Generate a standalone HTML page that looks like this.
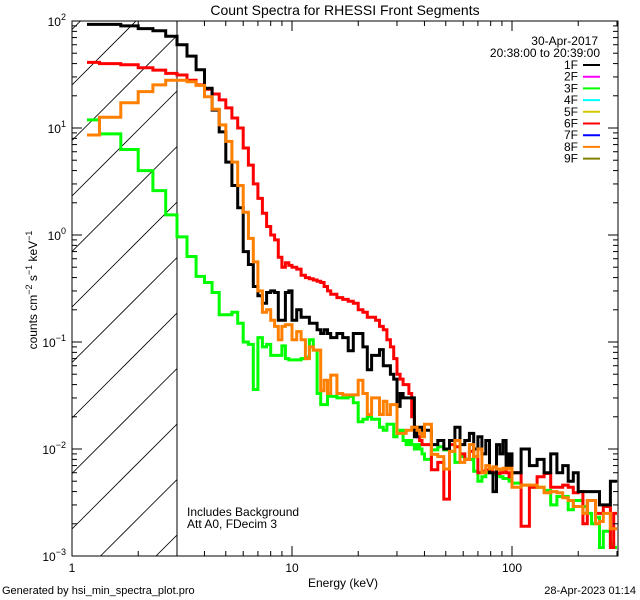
<!DOCTYPE html>
<html><head><meta charset="utf-8">
<style>
html,body{margin:0;padding:0;background:#fff;width:640px;height:600px;overflow:hidden;}
svg{display:block;font-family:"Liberation Sans",sans-serif;}
</style></head>
<body>
<svg id="chart" width="640" height="600" viewBox="0 0 640 600" xmlns="http://www.w3.org/2000/svg">
<rect width="640" height="600" fill="#fff"/>
<text x="345" y="15" font-size="14" text-anchor="middle">Count Spectra for RHESSI Front Segments</text>
<defs><clipPath id="hclip"><rect x="72" y="21" width="105" height="535"/></clipPath>
<clipPath id="pclip"><rect x="72" y="21" width="546" height="535"/></clipPath></defs>
<g id="hatch" clip-path="url(#hclip)"></g>
<line x1="177" y1="21" x2="177" y2="556" stroke="#000" stroke-width="1"/>
<g id="series" clip-path="url(#pclip)"></g>
<rect x="72" y="21" width="546" height="535" fill="none" stroke="#000" stroke-width="1"/>
<g id="axes"></g>
<text x="343" y="587" font-size="12" text-anchor="middle">Energy (keV)</text>
<text transform="translate(37,290) rotate(-90)" font-size="12" text-anchor="middle">counts cm<tspan dy="-5" font-size="9">−2</tspan><tspan dy="5"> s</tspan><tspan dy="-5" font-size="9">−1</tspan><tspan dy="5"> keV</tspan><tspan dy="-5" font-size="9">−1</tspan></text>
<text x="187" y="516" font-size="12">Includes Background</text>
<text x="187" y="528" font-size="12">Att A0, FDecim 3</text>
<text x="598" y="45" font-size="12" text-anchor="end">30-Apr-2017</text>
<text x="600" y="57" font-size="12" text-anchor="end">20:38:00 to 20:39:00</text>
<g id="legend"></g>
<text x="2" y="594" font-size="11">Generated by hsi_min_spectra_plot.pro</text>
<text x="636" y="594" font-size="11" text-anchor="end">28-Apr-2023 01:14</text>
</svg>
<script>
const binLo=[1.17,1.333,1.667,2,2.333,2.667,3,3.333,3.667,4,4.333,4.667,5,5.333,5.667,6,6.333,6.667,7,7.333,7.667,8,8.333,8.667,9,9.333,9.667,
10,10.5,11,11.5,12,12.5,13,13.5,14,14.5,
15,16,17,18,19,20,21,22,23,24,25,26,27,28,29,30,31,32,33,34,35,36,37,38,39,
40,43,46,49,52,55,58,61,64,67,70,73,76,79,82,85,88,91,94,97,
100,110,120,130,140,150,160,170,180,190,200,210,220,230,240,250,260,270,280,290];
const binTop=300;
const seg1F=[93,93,90,85,81,72,60,47,35,23.5,14.7,9.2,4.8,2.9,1.8,0.7,0.53,0.33,0.27,0.23,0.29,0.3,0.29,0.16,0.16,0.29,0.3,
0.16,0.2,0.17,0.17,0.15,0.15,0.13,0.12,0.13,0.12,
0.11,0.12,0.11,0.083,0.12,0.12,0.09,0.055,0.075,0.075,0.085,0.06,0.06,0.05,0.045,0.025,0.033,0.03,0.03,0.03,0.03,0.013,0.016,0.016,0.015,
0.015,0.011,0.012,0.010,0.012,0.016,0.011,0.012,0.014,0.010,0.013,0.009,0.012,0.006,0.004,0.011,0.009,0.012,0.007,0.009,
0.006,0.010,0.007,0.008,0.006,0.009,0.006,0.007,0.005,0.006,0.004,0.004,0.004,0.004,0.004,0.003,0.003,0.003,0.005,0.005];
const seg3F=[11.9,8.8,6.3,4.0,2.6,1.54,0.96,0.63,0.41,0.36,0.29,0.18,0.18,0.19,0.15,0.1,0.095,0.036,0.11,0.09,0.095,0.075,0.075,0.075,0.092,0.07,0.068,
0.068,0.068,0.07,0.072,0.105,0.084,0.033,0.026,0.026,0.031,
0.031,0.03,0.03,0.031,0.027,0.018,0.019,0.02,0.019,0.019,0.016,0.015,0.017,0.017,0.013,0.014,0.015,0.012,0.011,0.012,0.011,0.01,0.011,0.01,0.009,
0.008,0.0098,0.0105,0.0098,0.0095,0.0075,0.0085,0.008,0.008,0.0062,0.005,0.0055,0.006,0.006,0.0058,0.0058,0.0055,0.0053,0.0053,0.005,
0.0048,0.0046,0.0044,0.0044,0.0041,0.003,0.0036,0.0036,0.0027,0.0033,0.0033,0.0029,0.0025,0.002,0.0023,0.0012,0.0017,0.0017,0.0013,0.0012];
const seg6F=[41,40,39,36.6,34.8,32.4,31.3,28,25.3,23,20.8,18.3,15.4,12.4,10,6.5,4.5,3.0,2.2,1.6,1.2,1.0,0.9,0.62,0.5,0.55,0.52,
0.5,0.48,0.42,0.4,0.39,0.38,0.37,0.36,0.33,0.3,
0.28,0.26,0.25,0.24,0.23,0.2,0.19,0.17,0.17,0.16,0.14,0.13,0.105,0.09,0.07,0.05,0.045,0.04,0.04,0.033,0.02,0.015,0.013,0.012,0.011,
0.011,0.0064,0.0075,0.0034,0.011,0.0105,0.009,0.008,0.0095,0.0085,0.006,0.0062,0.0064,0.0064,0.006,0.0059,0.006,0.0064,0.006,0.0055,
0.006,0.0019,0.0044,0.0055,0.0059,0.0044,0.0044,0.0046,0.0044,0.0039,0.004,0.002,0.0033,0.0033,0.0025,0.0025,0.0029,0.0029,0.0012,0.0025];
const seg8F=[8.6,12.6,17.2,21.9,25.3,28,28,27,25,19.6,15,10.7,7.5,4.8,2.9,1.63,0.93,0.56,0.3,0.19,0.2,0.16,0.14,0.105,0.14,0.145,0.145,
0.105,0.125,0.105,0.07,0.09,0.084,0.084,0.035,0.044,0.033,
0.049,0.033,0.032,0.032,0.032,0.044,0.033,0.021,0.03,0.03,0.021,0.028,0.021,0.026,0.026,0.014,0.014,0.014,0.015,0.015,0.016,0.016,0.015,0.014,0.013,
0.017,0.0089,0.0085,0.0065,0.0095,0.012,0.0075,0.008,0.011,0.0085,0.01,0.006,0.007,0.0065,0.0068,0.0065,0.0064,0.0066,0.0065,0.0066,
0.0044,0.0046,0.0046,0.0044,0.0039,0.004,0.0039,0.0035,0.0033,0.0029,0.0029,0.0025,0.0033,0.0033,0.002,0.0021,0.0025,0.0025,0.0018,0.0018];
const legendLabels=["1F","2F","3F","4F","5F","6F","7F","8F","9F"];
const legendColors=["#000000","#ff00ff","#00ff00","#00ffff","#d4c800","#ff0000","#0000ff","#ff8000","#808000"];
const xTickVals=[1,10,100];
const xTickLabels=["1","10","100"];
const yTickExps=[-3,-2,-1,0,1,2];

const NS="http://www.w3.org/2000/svg";
const X0=72,X1=618,Y0=21,Y1=556,DX=220,DY=107;
function xs(e){return X0+DX*Math.log10(e);}
function ys(v){return Y0+DY*(2-Math.log10(v));}
function mk(tag,attrs,parent){const el=document.createElementNS(NS,tag);for(const k in attrs)el.setAttribute(k,attrs[k]);parent.appendChild(el);return el;}

const hatch=document.getElementById('hatch');
for(let k=-4;k<16;k++){const c=157+k*55.5;
 const l=mk('line',{x1:72,y1:c-72,x2:177,y2:c-177,stroke:'#000','stroke-width':0.8},hatch);
 
 }

const sg=document.getElementById('series');
function drawSeries(vals,color,name,w){
 let d='';
 for(let i=0;i<binLo.length;i++){
  const a=xs(binLo[i]),b=xs(i+1<binLo.length?binLo[i+1]:binTop),y=ys(vals[i]);
  d+=(i===0?'M':'L')+a.toFixed(1)+','+y.toFixed(1)+'L'+b.toFixed(1)+','+y.toFixed(1);
 }
 const p=mk('path',{d:d,fill:'none',stroke:color,'stroke-width':w,'stroke-linejoin':'miter'},sg);
 
 
}
drawSeries(seg3F,'#00ff00','series-3f',3);
drawSeries(seg6F,'#ff0000','series-6f',3);
drawSeries(seg1F,'#000000','series-1f',3);
drawSeries(seg8F,'#ff8000','series-8f',3);

const ax=document.getElementById('axes');
for(let dec=0;dec<3;dec++){for(let m=1;m<10;m++){const e=m*Math.pow(10,dec);if(e>302)break;
 const x=xs(e),L=m===1?10:5;
 const t1=mk('line',{x1:x,y1:Y1,x2:x,y2:Y1-L,stroke:'#000','stroke-width':1},ax);
 
 
 const t2=mk('line',{x1:x,y1:Y0,x2:x,y2:Y0+L,stroke:'#000','stroke-width':1},ax);
 
 }}
xTickVals.forEach((v,i)=>{const t=mk('text',{x:xs(v),y:572,'font-size':12,'text-anchor':'middle'},ax);t.textContent=xTickLabels[i];
 
 });
yTickExps.forEach(p=>{for(let m=1;m<10;m++){if(p===2&&m>1)break;const v=m*Math.pow(10,p);const y=ys(v),L=m===1?10:5;
 const a=mk('line',{x1:X0,y1:y,x2:X0+L,y2:y,stroke:'#000','stroke-width':1},ax);
 
 
 const b=mk('line',{x1:X1,y1:y,x2:X1-L,y2:y,stroke:'#000','stroke-width':1},ax);
 
 }
 const t=mk('text',{x:66,y:ys(Math.pow(10,p))+5,'font-size':12,'text-anchor':'end'},ax);
 
 
 const s1=document.createElementNS(NS,'tspan');s1.textContent='10';t.appendChild(s1);
 const s2=document.createElementNS(NS,'tspan');s2.setAttribute('dy','-6');s2.setAttribute('font-size','9');s2.textContent=String(p).replace('-','−');t.appendChild(s2);});

const lg=document.getElementById('legend');
legendLabels.forEach((lab,i)=>{const y=65+i*11.7;
 const t=mk('text',{x:578,y:y+4,'font-size':12,'text-anchor':'end'},lg);t.textContent=lab;
 
 
 const l=mk('line',{x1:583,y1:y,x2:600,y2:y,stroke:legendColors[i],'stroke-width':2},lg);
 
 });
</script>
</body></html>
